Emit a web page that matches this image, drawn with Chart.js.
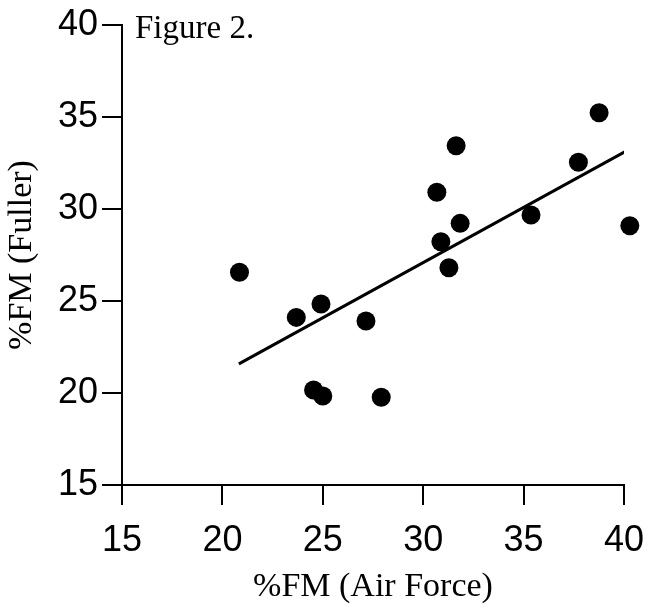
<!DOCTYPE html>
<html>
<head>
<meta charset="utf-8">
<script src="https://cdn.jsdelivr.net/npm/chart.js@4.4.1/dist/chart.umd.min.js"></script>
<style>
  html, body { margin: 0; padding: 0; background: #fff; }
  #wrap { width: 650px; height: 609px; }
</style>
</head>
<body>
<div id="wrap"><canvas id="fig2"></canvas></div>
<script>
// ── Data ────────────────────────────────────────────
const airForce = [20.85, 23.68, 24.91, 24.54, 25.0, 27.15, 27.91, 30.68, 31.64, 30.88, 31.84, 31.28, 35.37, 37.73, 38.76, 40.29];
const fuller   = [26.56, 24.11, 24.84, 20.16, 19.84, 23.91, 19.77, 30.91, 33.44, 28.22, 29.22, 26.81, 29.67, 32.54, 35.23, 29.09];
const fitX = [20.82, 40.05];
const fitY = [21.58, 33.11];
const tickValues = [15, 20, 25, 30, 35, 40];

const SANS = "'Liberation Sans', Arial, Helvetica, sans-serif";
const SERIF = "'Liberation Serif', 'Times New Roman', Times, serif";

// ── "Figure 2." caption inside the plot ─────────────
const captionPlugin = {
  id: 'caption',
  afterDraw(chart) {
    const ctx = chart.ctx;
    ctx.save();
    ctx.fillStyle = '#000';
    ctx.font = '33px ' + SERIF;
    ctx.textBaseline = 'alphabetic';
    ctx.fillText('Figure 2.', 135, 38);
    ctx.restore();
  },
};

const axisCommon = {
  type: 'linear',
  min: 15,
  max: 40,
  afterBuildTicks: scale => { scale.ticks = tickValues.map(v => ({ value: v })); },
  border: { display: true, color: '#000', width: 2 },
  grid: { drawOnChartArea: false, drawTicks: true, tickLength: 20, color: '#000', lineWidth: 2 },
};

new Chart(document.getElementById('fig2').getContext('2d'), {
  data: {
    datasets: [
      {
        type: 'scatter',
        data: airForce.map((x, i) => ({ x, y: fuller[i] })),
        pointRadius: 9.5,
        pointHoverRadius: 9.5,
        pointBackgroundColor: '#000',
        pointBorderWidth: 0,
        clip: false,
      },
      {
        type: 'line',
        data: fitX.map((x, i) => ({ x, y: fitY[i] })),
        borderColor: '#000',
        borderWidth: 3,
        pointRadius: 0,
        fill: false,
      },
    ],
  },
  options: {
    responsive: true,
    maintainAspectRatio: false,
    animation: false,
    events: [],
    layout: { padding: { top: 25, right: 26, left: 0, bottom: 0 } },
    plugins: { legend: { display: false }, tooltip: { enabled: false } },
    scales: {
      x: {
        ...axisCommon,
        position: 'bottom',
        afterFit: scale => {
          scale.height = 124;
          scale.paddingLeft = 0;
          scale.paddingRight = 0;
        },
        ticks: { color: '#000', padding: 14, font: { family: SANS, size: 36 } },
        title: { display: true, text: '%FM (Air Force)', color: '#000', padding: { top: 0, bottom: 2 }, font: { family: SERIF, size: 34 } },
      },
      y: {
        ...axisCommon,
        position: 'left',
        afterFit: scale => {
          scale.width = 122;
          scale.paddingTop = 0;
          scale.paddingBottom = 0;
        },
        ticks: { color: '#000', padding: 4, font: { family: SANS, size: 36 } },
        title: { display: true, text: '%FM (Fuller)', color: '#000', padding: { top: 2, bottom: 0 }, font: { family: SERIF, size: 34 } },
      },
    },
  },
  plugins: [captionPlugin],
});
</script>
</body>
</html>
